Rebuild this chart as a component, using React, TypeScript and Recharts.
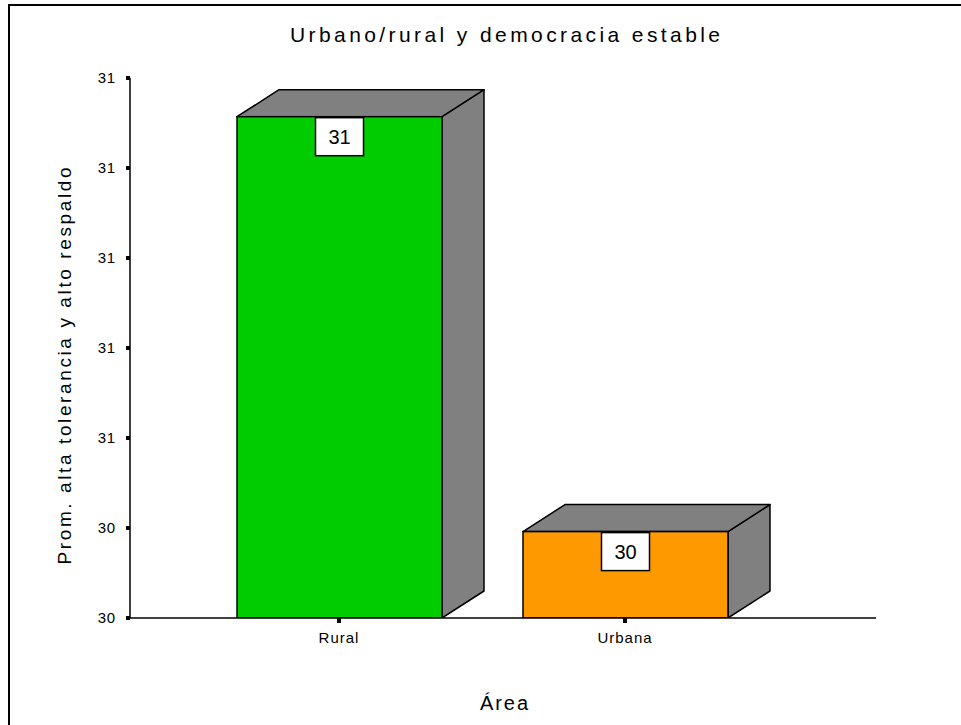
import React from 'react';
import { BarChart, Bar, XAxis, YAxis, LabelList, Label } from 'recharts';

const categories = ['Rural', 'Urbana'];
const values = [30.857, 30.396];
const barColors = ['#00CC00', '#FF9900'];
const yTicks = [30.3, 30.4, 30.5, 30.6, 30.7, 30.8, 30.9];

const title = 'Urbano/rural y democracia estable';
const yTitle = 'Prom. alta tolerancia y alto respaldo';
const xTitle = 'Área';

const data = categories.map((c, i) => ({ name: c, value: values[i], color: barColors[i] }));

const FONT = '"Liberation Sans", Arial, sans-serif';
const DX = 42;
const DY = 27;

const Bar3D = (props: any) => {
  const { x, y, width, height, payload } = props;
  const side = `${x + width},${y} ${x + width + DX},${y - DY} ${x + width + DX},${y + height - DY} ${x + width},${y + height}`;
  const top = `${x},${y} ${x + DX},${y - DY} ${x + width + DX},${y - DY} ${x + width},${y}`;
  return (
    <g>
      <polygon points={side} fill="#808080" stroke="#000" strokeWidth={1.5} strokeLinejoin="round" />
      <polygon points={top} fill="#808080" stroke="#000" strokeWidth={1.5} strokeLinejoin="round" />
      <rect x={x} y={y} width={width} height={height} fill={payload.color} stroke="#000" strokeWidth={1.5} />
    </g>
  );
};

const ValueBox = (props: any) => {
  const { x, y, width, value } = props;
  const cx = x + width / 2;
  return (
    <g>
      <rect x={cx - 24} y={y + 1} width={48} height={38} fill="#fff" stroke="#000" strokeWidth={1.5} />
      <text x={cx} y={y + 20} dy="0.36em" textAnchor="middle" fontFamily={FONT} fontSize={20} fill="#000">
        {Math.round(value)}
      </text>
    </g>
  );
};

const YTick = (props: any) => {
  const { x, y, payload } = props;
  return (
    <text x={x} y={y} dy="0.36em" textAnchor="end" fontFamily={FONT} fontSize={15} fill="#000" letterSpacing={0.8}>
      {String(Math.round(payload.value))}
    </text>
  );
};

const XTick = (props: any) => {
  const { x, y, payload } = props;
  return (
    <text x={x} y={y} dy="0.75em" textAnchor="middle" fontFamily={FONT} fontSize={15} fill="#000" letterSpacing={1}>
      {payload.value}
    </text>
  );
};

const YTitle = (props: any) => {
  const vb = props.viewBox || {};
  const cx = 71;
  const cy = (vb.y ?? 78) + (vb.height ?? 540) / 2 + 18;
  return (
    <text
      x={cx}
      y={cy}
      transform={`rotate(-90, ${cx}, ${cy})`}
      textAnchor="middle"
      fontFamily={FONT}
      fontSize={19}
      fill="#000"
      textLength={397}
      lengthAdjust="spacing"
    >
      {yTitle}
    </text>
  );
};

const XTitle = (props: any) => {
  const vb = props.viewBox || {};
  const cx = 504;
  const cy = (vb.y ?? 618) + 92;
  return (
    <text x={cx} y={cy} textAnchor="middle" fontFamily={FONT} fontSize={20} fill="#000" textLength={48} lengthAdjust="spacing">
      {xTitle}
    </text>
  );
};

export default function App() {
  return (
    <div style={{ position: 'absolute', left: 0, top: 0, width: 961, height: 725, background: '#fff' }}>
      <div style={{ position: 'absolute', left: 0, top: 0 }}>
        <BarChart width={961} height={725} data={data} margin={{ top: 78, right: 85, bottom: 0, left: 0 }}>
          <XAxis
            dataKey="name"
            height={107}
            padding={{ left: 66, right: 108 }}
            axisLine={{ stroke: '#000', strokeWidth: 1.5 }}
            tickLine={{ stroke: '#000', strokeWidth: 4 }}
            tickSize={5}
            tickMargin={9}
            tick={<XTick />}
          >
            <Label content={<XTitle />} />
          </XAxis>
          <YAxis
            width={130}
            domain={[30.3, 30.9]}
            ticks={yTicks}
            allowDataOverflow
            interval={0}
            axisLine={{ stroke: '#000', strokeWidth: 1.5 }}
            tickLine={{ stroke: '#000', strokeWidth: 4 }}
            tickSize={4}
            tickMargin={10}
            tick={<YTick />}
          >
            <Label content={<YTitle />} />
          </YAxis>
          <Bar dataKey="value" barSize={205} shape={<Bar3D />} isAnimationActive={false}>
            <LabelList dataKey="value" content={<ValueBox />} />
          </Bar>
        </BarChart>
      </div>
      <svg width={961} height={725} style={{ position: 'absolute', left: 0, top: 0, pointerEvents: 'none' }}>
        <line x1={8} y1={5} x2={961} y2={5} stroke="#000" strokeWidth={2} />
        <line x1={9} y1={4} x2={9} y2={725} stroke="#000" strokeWidth={2} />
        <text x={505} y={42} textAnchor="middle" fontFamily={FONT} fontSize={21} fill="#000" textLength={430} lengthAdjust="spacing">
          {title}
        </text>
      </svg>
    </div>
  );
}
